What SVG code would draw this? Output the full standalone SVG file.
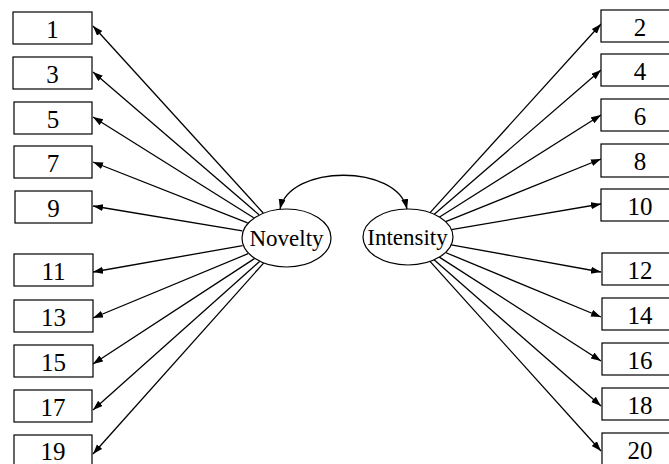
<svg xmlns="http://www.w3.org/2000/svg" width="669" height="464" viewBox="0 0 669 464">
<defs>
<marker id="ah" markerWidth="11" markerHeight="8" refX="10" refY="3.5" orient="auto-start-reverse" markerUnits="userSpaceOnUse">
<path d="M0,0 L10,3.5 L0,7 z" fill="#000"/>
</marker>
<style>
.box{fill:#fff;stroke:#000;stroke-width:1.2}
.ell{fill:#fff;stroke:#000;stroke-width:1.2}
.num{font-family:"Liberation Serif","Times New Roman",serif;font-size:25px;text-anchor:middle;fill:#000}
.lab{font-family:"Liberation Serif","Times New Roman",serif;font-size:23px;text-anchor:middle;fill:#000}
.con line,.con path{stroke:#000;stroke-width:1.3;fill:none;marker-end:url(#ah)}
</style>
</defs>
<rect width="669" height="464" fill="#fff"/>
<g class="con" id="connectors">
<path d="M 280 209 C 290 164, 397 164, 407 209" style="marker-start:url(#ah)"/>
<line x1="263.2" y1="213" x2="93" y2="26"/>
<line x1="259" y1="214.8" x2="93" y2="72"/>
<line x1="253.7" y1="217.8" x2="93" y2="117"/>
<line x1="247.6" y1="222.9" x2="93" y2="162"/>
<line x1="242.4" y1="230.8" x2="93" y2="206"/>
<line x1="242.6" y1="245.6" x2="93" y2="272"/>
<line x1="248.1" y1="253.7" x2="93" y2="318"/>
<line x1="254.4" y1="258.6" x2="93" y2="364"/>
<line x1="259.6" y1="261.5" x2="93" y2="410"/>
<line x1="263.6" y1="263.1" x2="93" y2="454"/>
<line x1="430.1" y1="212.6" x2="601" y2="24"/>
<line x1="434.3" y1="214.3" x2="601" y2="70"/>
<line x1="439.6" y1="217" x2="601" y2="115"/>
<line x1="445.7" y1="221.7" x2="601" y2="159"/>
<line x1="451.4" y1="229.6" x2="601" y2="204"/>
<line x1="451.2" y1="244.8" x2="601" y2="272"/>
<line x1="445.5" y1="252.5" x2="601" y2="317"/>
<line x1="439.3" y1="257.1" x2="601" y2="361"/>
<line x1="434.1" y1="259.8" x2="601" y2="406"/>
<line x1="430" y1="261.4" x2="601" y2="451"/>
</g>
<g id="novelty"><ellipse class="ell" cx="286.5" cy="238" rx="44.5" ry="29"/><text class="lab" x="286.5" y="245.5">Novelty</text></g>
<g id="intensity"><ellipse class="ell" cx="408" cy="237" rx="45" ry="28"/><text class="lab" x="407.5" y="245">Intensity</text></g>
<g id="n1"><rect class="box" x="13" y="12" width="79" height="32"/><text class="num" x="52.5" y="38">1</text></g>
<g id="n3"><rect class="box" x="13" y="57" width="79" height="32"/><text class="num" x="52.5" y="83">3</text></g>
<g id="n5"><rect class="box" x="14" y="102" width="78" height="32"/><text class="num" x="53" y="128">5</text></g>
<g id="n7"><rect class="box" x="14" y="146" width="78" height="32"/><text class="num" x="53" y="172">7</text></g>
<g id="n9"><rect class="box" x="15" y="191" width="77" height="32"/><text class="num" x="53.5" y="217">9</text></g>
<g id="n11"><rect class="box" x="14" y="254" width="79" height="32"/><text class="num" x="53.5" y="280">11</text></g>
<g id="n13"><rect class="box" x="14" y="300" width="79" height="32"/><text class="num" x="53.5" y="326">13</text></g>
<g id="n15"><rect class="box" x="14" y="345" width="79" height="32"/><text class="num" x="53.5" y="371">15</text></g>
<g id="n17"><rect class="box" x="14" y="390" width="78" height="32"/><text class="num" x="53" y="416">17</text></g>
<g id="n19"><rect class="box" x="14" y="435" width="78" height="32"/><text class="num" x="53" y="460">19</text></g>
<g id="n2"><rect class="box" x="601" y="10" width="80" height="32"/><text class="num" x="640" y="36">2</text></g>
<g id="n4"><rect class="box" x="601" y="54" width="80" height="32"/><text class="num" x="640" y="80">4</text></g>
<g id="n6"><rect class="box" x="601" y="99" width="80" height="32"/><text class="num" x="640" y="125">6</text></g>
<g id="n8"><rect class="box" x="601" y="144" width="80" height="33"/><text class="num" x="640" y="170">8</text></g>
<g id="n10"><rect class="box" x="601" y="189" width="80" height="32"/><text class="num" x="640" y="215">10</text></g>
<g id="n12"><rect class="box" x="602" y="253" width="80" height="32"/><text class="num" x="640" y="279">12</text></g>
<g id="n14"><rect class="box" x="602" y="298" width="80" height="32"/><text class="num" x="640" y="324">14</text></g>
<g id="n16"><rect class="box" x="602" y="343" width="80" height="32"/><text class="num" x="640" y="369">16</text></g>
<g id="n18"><rect class="box" x="602" y="388" width="80" height="32"/><text class="num" x="640" y="414">18</text></g>
<g id="n20"><rect class="box" x="602" y="433" width="80" height="32"/><text class="num" x="640" y="459">20</text></g>
</svg>
